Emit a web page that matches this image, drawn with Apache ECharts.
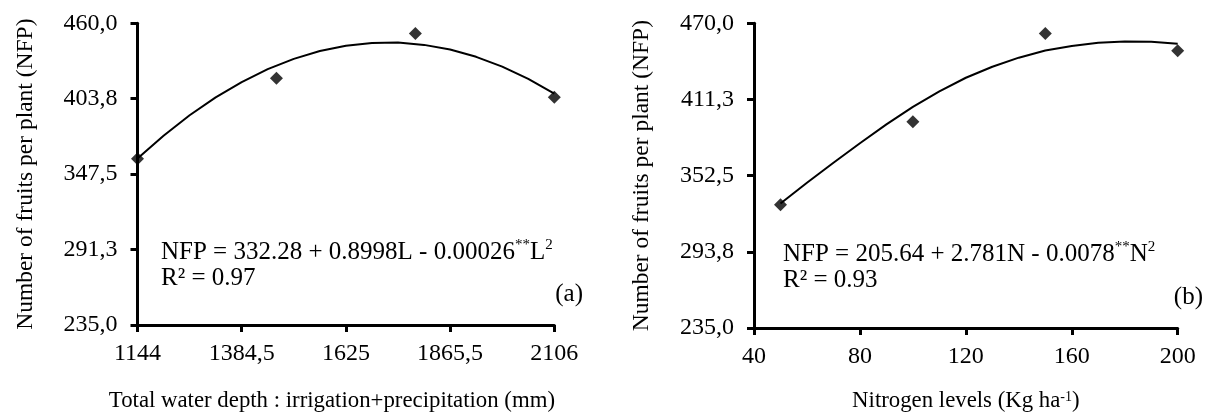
<!DOCTYPE html>
<html>
<head>
<meta charset="utf-8">
<script src="https://cdn.jsdelivr.net/npm/echarts@6/dist/echarts.min.js"></script>
<style>html,body{margin:0;padding:0;background:#fff}#c{width:1211px;height:418px}</style>
</head>
<body>
<div id="c"></div>
<script>
// ---- data ----
const waterDepth = [1144, 1464.7, 1785.3, 2106];
const nfpWater = [359.0, 419.1, 452.4, 404.9];
// fitted curve, read along its path
const fitWaterX = [1144, 1204.1, 1264.3, 1324.4, 1384.5, 1444.6, 1504.8, 1564.9, 1625, 1685.1, 1745.3, 1805.4, 1865.5, 1925.6, 1985.8, 2045.9, 2106];
const fitWaterY = [359.2, 376.2, 391.4, 404.8, 416.2, 425.8, 433.5, 439.3, 443.3, 445.3, 445.6, 443.9, 440.4, 435.0, 427.7, 418.5, 407.5];

const nitrogen = [50, 100, 150, 200];
const nfpNitrogen = [330.0, 394.0, 462.1, 448.9];
const fitNitrogenX = [50, 60, 70, 80, 90, 100, 110, 120, 130, 140, 150, 160, 170, 180, 190, 200];
const fitNitrogenY = [331, 347, 362.5, 377.5, 392, 405.5, 417.5, 428, 436.5, 443.5, 449, 452.5, 455, 456, 455.8, 454.3];

const xTicksA = [1144, 1384.5, 1625, 1865.5, 2106];
const xLabelsA = ['1144', '1384,5', '1625', '1865,5', '2106'];
const yTicksA = [235, 291.25, 347.5, 403.75, 460];
const yLabelsA = ['235,0', '291,3', '347,5', '403,8', '460,0'];

const xTicksB = [40, 80, 120, 160, 200];
const xLabelsB = ['40', '80', '120', '160', '200'];
const yTicksB = [235, 293.75, 352.5, 411.25, 470];
const yLabelsB = ['235,0', '293,8', '352,5', '411,3', '470,0'];

const FONT = '"Liberation Serif", "Times New Roman", serif';

function zip(a, b) { return a.map((v, i) => [v, b[i]]); }

function xAxisDef(idx, ticks, labels, name, nameGap, namePad) {
  return {
    type: 'value', gridIndex: idx, min: ticks[0], max: ticks[ticks.length - 1],
    axisLine: { show: true, onZero: false, lineStyle: { color: '#000', width: 3 } },
    axisTick: { show: true, length: 7, customValues: ticks, lineStyle: { color: '#000', width: 3 } },
    axisLabel: { customValues: ticks, margin: 17, color: '#000', fontFamily: FONT, fontSize: 24,
      formatter: v => labels[ticks.indexOf(v)] },
    splitLine: { show: false },
    name: name, nameLocation: 'middle', nameGap: nameGap,
    nameTextStyle: { color: '#000', fontFamily: FONT, fontSize: 22.8, padding: namePad,
      rich: { n: { fontFamily: FONT, fontSize: 22.8, color: '#000' },
              s: { fontFamily: FONT, fontSize: 14, color: '#000', verticalAlign: 'top' } } }
  };
}
function yAxisDef(idx, ticks, labels) {
  return {
    type: 'value', gridIndex: idx, min: ticks[0], max: ticks[ticks.length - 1],
    axisLine: { show: true, lineStyle: { color: '#000', width: 3 } },
    axisTick: { show: true, length: 7, customValues: ticks, lineStyle: { color: '#000', width: 3 } },
    axisLabel: { customValues: ticks, margin: 20, color: '#000', fontFamily: FONT, fontSize: 24,
      formatter: v => labels[ticks.indexOf(v)] },
    splitLine: { show: false },
    name: 'Number of fruits per plant (NFP)', nameLocation: 'middle', nameGap: 100,
    nameTextStyle: { color: '#000', fontFamily: FONT, fontSize: 23.5 }
  };
}

const richEq = {
  n: { fontFamily: FONT, fontSize: 25, color: '#000', lineHeight: 28 },
  s: { fontFamily: FONT, fontSize: 15, color: '#000', verticalAlign: 'top', lineHeight: 28 }
};

const chart = echarts.init(document.getElementById('c'), null, { renderer: 'canvas' });
chart.setOption({
  backgroundColor: '#fff',
  animation: false,
  grid: [
    { left: 137.5, top: 23.3, width: 416.8, height: 306 },
    { left: 754, top: 23.3, width: 423.7, height: 309 }
  ],
  xAxis: [
    xAxisDef(0, xTicksA, xLabelsA, 'Total water depth : irrigation+precipitation (mm)', 65, [0, 28, 0, 0]),
    xAxisDef(1, xTicksB, xLabelsB, '{n|Nitrogen levels (Kg ha}{s|-1}{n|)}', 62, 0)
  ],
  yAxis: [ yAxisDef(0, yTicksA, yLabelsA), yAxisDef(1, yTicksB, yLabelsB) ],
  series: [
    { type: 'line', xAxisIndex: 0, yAxisIndex: 0, data: zip(fitWaterX, fitWaterY), smooth: false,
      showSymbol: false, lineStyle: { color: '#000', width: 2 }, z: 2 },
    { type: 'scatter', xAxisIndex: 0, yAxisIndex: 0, data: zip(waterDepth, nfpWater), symbol: 'diamond',
      symbolSize: 13, itemStyle: { color: '#000' }, z: 3 },
    { type: 'line', xAxisIndex: 1, yAxisIndex: 1, data: zip(fitNitrogenX, fitNitrogenY), smooth: false,
      showSymbol: false, lineStyle: { color: '#000', width: 2 }, z: 2 },
    { type: 'scatter', xAxisIndex: 1, yAxisIndex: 1, data: zip(nitrogen, nfpNitrogen), symbol: 'diamond',
      symbolSize: 13, itemStyle: { color: '#000' }, z: 3 }
  ],
  graphic: [
    { type: 'text', left: 161, top: 238, style: { text: '{n|NFP = 332.28 + 0.8998L - 0.00026}{s|**}{n|L}{s|2}', rich: richEq, fill: '#000' } },
    { type: 'text', left: 161, top: 266, style: { text: '{n|R² = 0.97}', rich: richEq, fill: '#000' } },
    { type: 'text', right: 1211 - 583, top: 282, style: { text: '(a)', fill: '#000', font: '25px ' + FONT } },
    { type: 'text', left: 783, top: 240, style: { text: '{n|NFP = 205.64 + 2.781N - 0.0078}{s|**}{n|N}{s|2}', rich: richEq, fill: '#000' } },
    { type: 'text', left: 783, top: 268, style: { text: '{n|R² = 0.93}', rich: richEq, fill: '#000' } },
    { type: 'text', right: 1211 - 1203, top: 285, style: { text: '(b)', fill: '#000', font: '25px ' + FONT } }
  ]
});
</script>
</body>
</html>
